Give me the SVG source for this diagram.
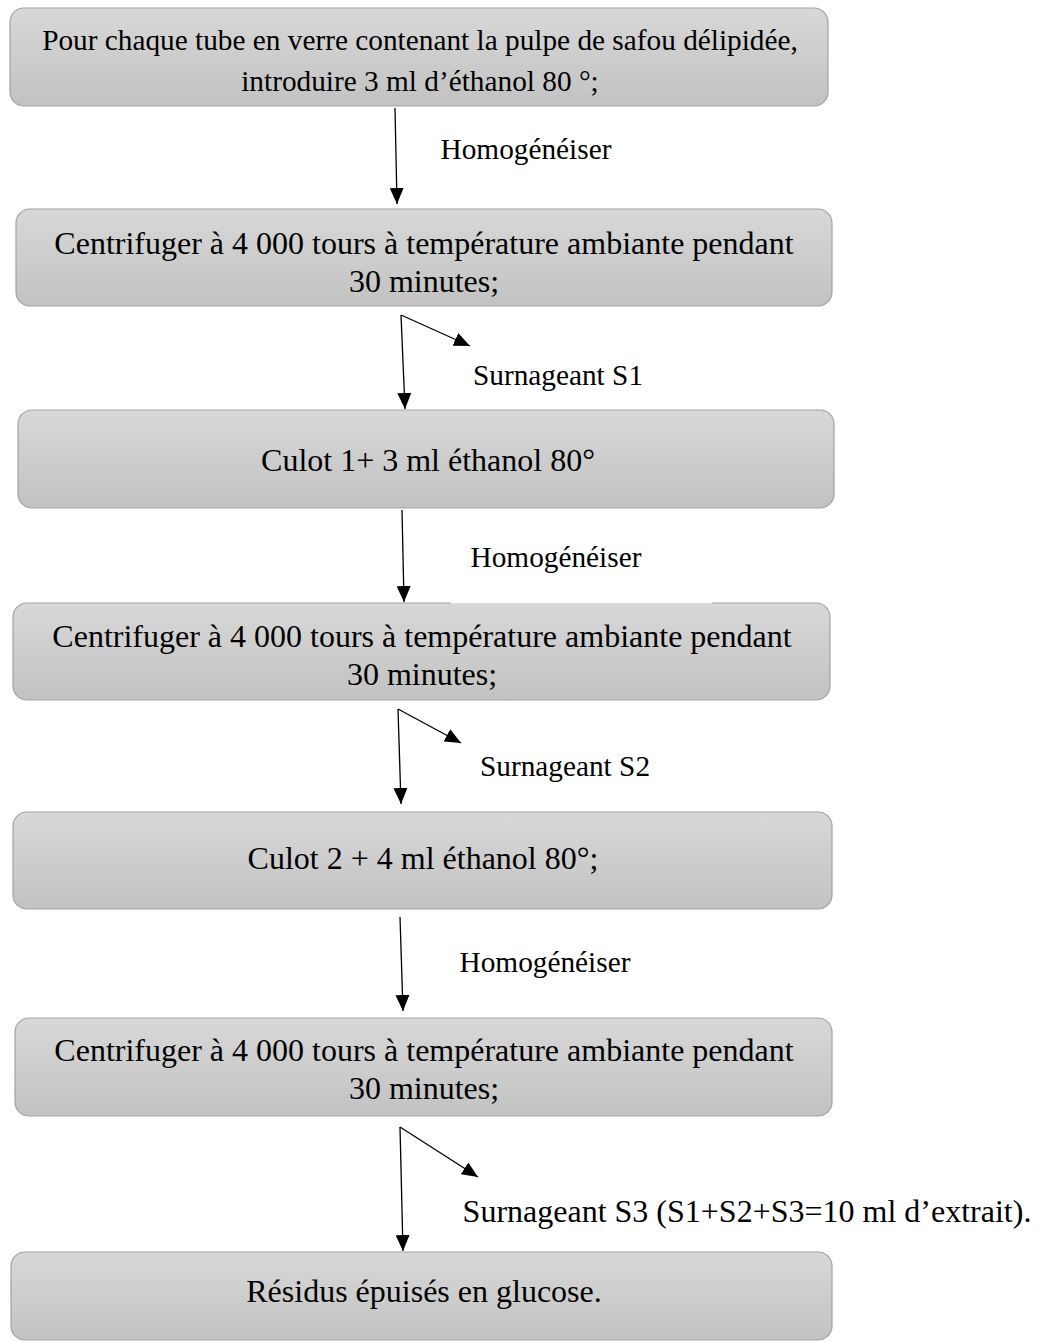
<svg xmlns="http://www.w3.org/2000/svg" width="1039" height="1342" viewBox="0 0 1039 1342">
<style>
.box{fill:url(#g);stroke:#a3a3a3;stroke-width:1.2}
.t{font-family:"Liberation Serif","Times New Roman",serif;fill:#000;text-anchor:middle}
.b{font-size:32px}
.s{font-size:29.3px}
.h{font-size:29.3px}
.c{stroke:#000;stroke-width:1.3;fill:none;marker-end:url(#ah)}
</style>
<defs>
<linearGradient id="g" x1="0" y1="0" x2="0" y2="1">
<stop offset="0" stop-color="#d8d8d8"/>
<stop offset="1" stop-color="#c2c2c2"/>
</linearGradient>
<marker id="ah" markerUnits="userSpaceOnUse" viewBox="0 0 16 14" refX="16" refY="7" markerWidth="16" markerHeight="14" orient="auto">
<path d="M0,0 L16,7 L0,14 Z" fill="#000"/>
</marker>
</defs>
<rect width="1039" height="1342" fill="#fff"/>
<g id="connectors">
<line class="c" x1="395" y1="108" x2="397" y2="204"/>
<line class="c" x1="401" y1="315" x2="405" y2="409"/>
<line class="c" x1="401" y1="315" x2="470" y2="346"/>
<line class="c" x1="402" y1="510" x2="404" y2="602"/>
<line class="c" x1="398" y1="709" x2="401" y2="804"/>
<line class="c" x1="398" y1="709" x2="461" y2="743"/>
<line class="c" x1="400" y1="917" x2="403" y2="1011"/>
<line class="c" x1="400" y1="1127" x2="403" y2="1251"/>
<line class="c" x1="400" y1="1127" x2="478" y2="1177"/>
</g>
<g id="node1">
<rect class="box" x="10" y="8" width="818" height="98" rx="14"/>
<text class="t s" x="420" y="50">Pour chaque tube en verre contenant la pulpe de safou délipidée,</text>
<text class="t s" x="420" y="91">introduire 3 ml d’éthanol 80 °;</text>
</g>
<g id="node2">
<rect class="box" x="16" y="209" width="816" height="97" rx="14"/>
<text class="t b" x="424" y="254">Centrifuger à 4 000 tours à température ambiante pendant</text>
<text class="t b" x="424" y="292">30 minutes;</text>
</g>
<g id="node3">
<rect class="box" x="18" y="410" width="816" height="98" rx="14"/>
<text class="t b" x="428" y="471">Culot 1+ 3 ml éthanol 80°</text>
</g>
<g id="node4">
<rect class="box" x="13" y="603" width="817" height="97" rx="14"/>
<text class="t b" x="422" y="647">Centrifuger à 4 000 tours à température ambiante pendant</text>
<text class="t b" x="422" y="685">30 minutes;</text>
</g>
<g id="node5">
<rect class="box" x="13" y="812" width="819" height="97" rx="14"/>
<text class="t b" x="423" y="869">Culot 2 + 4 ml éthanol 80°;</text>
</g>
<g id="node6">
<rect class="box" x="15" y="1018" width="817" height="98" rx="14"/>
<text class="t b" x="424" y="1061">Centrifuger à 4 000 tours à température ambiante pendant</text>
<text class="t b" x="424" y="1099">30 minutes;</text>
</g>
<g id="node7">
<rect class="box" x="11" y="1252" width="821" height="88" rx="14"/>
<text class="t b" x="424" y="1302">Résidus épuisés en glucose.</text>
</g>
<g id="labels">
<text class="t h" x="526" y="159">Homogénéiser</text>
<text class="t s" x="558" y="385">Surnageant S1</text>
<rect x="451" y="535" width="261" height="68.5" fill="#fff"/>
<text class="t h" x="556" y="567">Homogénéiser</text>
<text class="t s" x="565" y="776">Surnageant S2</text>
<text class="t h" x="545" y="972">Homogénéiser</text>
<text class="t b" x="747" y="1222">Surnageant S3 (S1+S2+S3=10 ml d’extrait).</text>
</g>
</svg>
